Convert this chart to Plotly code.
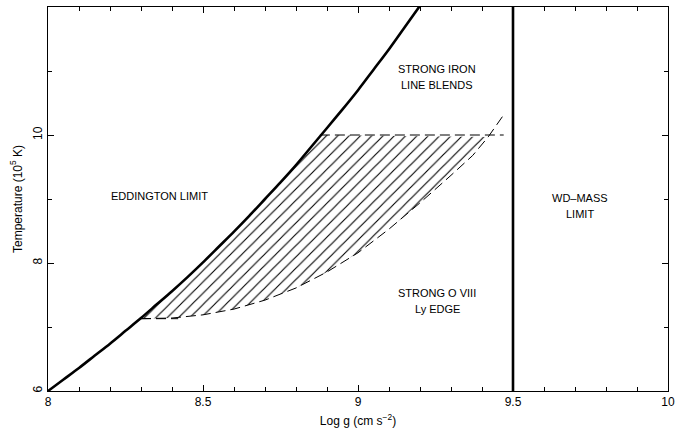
import plotly.graph_objects as go

# Eddington limit curve (log g, T in 1e5 K)
edd_logg = [8.00, 8.05, 8.10, 8.15, 8.20, 8.25, 8.30, 8.35, 8.40, 8.45, 8.50, 8.55,
            8.60, 8.65, 8.70, 8.75, 8.80, 8.85, 8.90, 8.95, 9.00, 9.05, 9.10,
            9.15, 9.20]
edd_T = [6.00, 6.18, 6.36, 6.55, 6.74, 6.94, 7.14, 7.35, 7.56, 7.78, 8.01, 8.25,
         8.49, 8.74, 9.00, 9.26, 9.53, 9.82, 10.11, 10.40, 10.70, 11.02, 11.34,
         11.68, 12.02]

# Lower dashed boundary (strong O VIII Ly edge)
low_logg = [8.30, 8.40, 8.50, 8.60, 8.70, 8.80, 8.90, 9.00, 9.10, 9.20, 9.30, 9.37, 9.42, 9.475]
low_T = [7.13, 7.14, 7.19, 7.28, 7.42, 7.61, 7.86, 8.16, 8.53, 8.94, 9.37, 9.68, 9.97, 10.35]

# Upper dashed boundary (strong iron line blends)
top_logg = [8.877, 9.47]
top_T = [10.0, 10.0]

# Short flat dashed segment at the bottom of the hatched region
bot_logg = [8.30, 8.42]
bot_T = [7.13, 7.13]

# WD mass limit
wd_logg = [9.5, 9.5]
wd_T = [6.0, 12.0]

# region labels: (log g, T, text), one entry per text line
labels = [
    (8.36, 9.05, "EDDINGTON LIMIT"),
    (9.255, 11.03, "STRONG IRON"),
    (9.255, 10.78, "LINE BLENDS"),
    (9.716, 9.02, "WD\u2013MASS"),
    (9.716, 8.77, "LIMIT"),
    (9.255, 7.53, "STRONG O VIII"),
    (9.255, 7.28, "Ly EDGE"),
]

# hatched region polygon built from the boundary arrays
px, pt = [], []
for x, t in zip(edd_logg, edd_T):
    if 8.3 <= x < top_logg[0]:
        px.append(x); pt.append(t)
px.append(top_logg[0]); pt.append(top_T[0])
for x, t in zip(reversed(low_logg), reversed(low_T)):
    if x <= 9.42:
        px.append(x); pt.append(t)

fig = go.Figure()

fig.add_trace(go.Scatter(
    x=px, y=pt, mode="lines", fill="toself",
    line=dict(width=0, color="rgba(0,0,0,0)"),
    fillcolor="white",
    fillpattern=dict(shape="/", size=8, solidity=0.14, fgcolor="black",
                     fgopacity=1, bgcolor="white", fillmode="replace"),
    hoverinfo="skip", showlegend=False,
))

dash = "10px,5px"
for xs, ys in [(low_logg, low_T), (top_logg, top_T), (bot_logg, bot_T)]:
    fig.add_trace(go.Scatter(x=xs, y=ys, mode="lines",
                             line=dict(color="black", width=1, dash=dash, simplify=False),
                             showlegend=False))
fig.add_trace(go.Scatter(x=edd_logg, y=edd_T, mode="lines",
                         line=dict(color="black", width=2.6, shape="spline", smoothing=0.8,
                                   simplify=False),
                         showlegend=False))
fig.add_trace(go.Scatter(x=wd_logg, y=wd_T, mode="lines",
                         line=dict(color="black", width=2.6), showlegend=False))

for x, y, t in labels:
    fig.add_annotation(x=x, y=y, text=t, showarrow=False,
                       font=dict(family="Liberation Sans", size=11, color="black"),
                       align="center")

axis_common = dict(
    showgrid=False, zeroline=False, showline=True, linecolor="black", linewidth=1,
    mirror="allticks", ticks="inside", ticklen=6, tickwidth=1, tickcolor="black",
    tickfont=dict(family="Liberation Sans", size=12, color="black"),
)

fig.update_xaxes(range=[8, 10], tickvals=[8, 8.5, 9, 9.5, 10],
                 ticktext=["8", "8.5", "9", "9.5", "10"],
                 minor=dict(dtick=0.1, ticks="inside", ticklen=4, tickcolor="black", showgrid=False),
                 title=dict(text="Log g (cm s<sup>\u22122</sup>)", standoff=8,
                            font=dict(family="Liberation Sans", size=12, color="black")),
                 **axis_common)
fig.update_yaxes(range=[6, 12], tickvals=[6, 8, 10, 12], tickangle=-90,
                 minor=dict(dtick=1, ticks="inside", ticklen=4, tickcolor="black", showgrid=False),
                 title=dict(text="Temperature (10<sup>5</sup> K)", standoff=6,
                            font=dict(family="Liberation Sans", size=12, color="black")),
                 **axis_common)

fig.update_layout(
    width=687, height=437,
    margin=dict(l=48, r=19, t=7, b=46),
    paper_bgcolor="white", plot_bgcolor="white",
    showlegend=False,
)

fig.write_html("out.html")
